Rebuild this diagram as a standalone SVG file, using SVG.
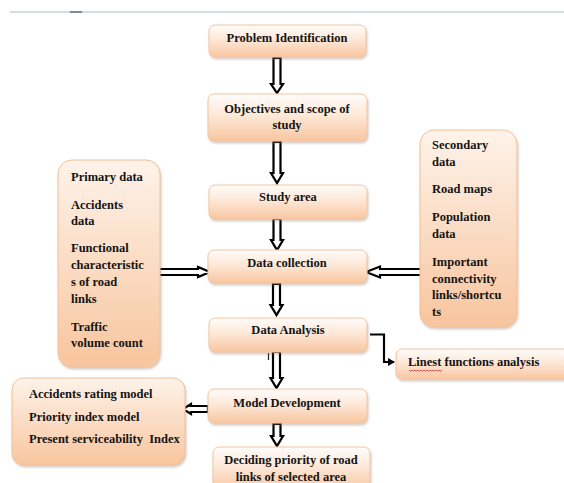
<svg xmlns="http://www.w3.org/2000/svg" width="564" height="483" viewBox="0 0 564 483">
<style>
  text { font-family: "Liberation Serif", "Times New Roman", serif; font-weight: bold; font-size: 12.5px; fill: #141414; }
  .c { text-anchor: middle; }
  .box { fill: url(#g); stroke: #f2c4a0; stroke-width: 1; filter: url(#sh); }
  .side { fill: url(#gs); stroke: #f0c09a; stroke-width: 1; filter: url(#sh); }
  .hollow { fill: #ffffff; stroke: #000000; stroke-width: 2.2; stroke-linejoin: miter; }
</style>
<defs>
  <linearGradient id="g" x1="0" y1="0" x2="0" y2="1">
    <stop offset="0" stop-color="#fffcfa"/>
    <stop offset="0.45" stop-color="#fde8d8"/>
    <stop offset="1" stop-color="#f8c6a0"/>
  </linearGradient>
  <linearGradient id="gs" x1="0" y1="0" x2="0" y2="1">
    <stop offset="0" stop-color="#fef3ea"/>
    <stop offset="1" stop-color="#f8c59e"/>
  </linearGradient>
  <filter id="sh" x="-10%" y="-10%" width="130%" height="130%">
    <feDropShadow dx="1" dy="2" stdDeviation="1.2" flood-color="#8a7060" flood-opacity="0.35"/>
  </filter>
  <marker id="ah" markerWidth="8" markerHeight="8" refX="6" refY="4" orient="auto" markerUnits="userSpaceOnUse">
    <path d="M0,0 L7,4 L0,8 Z" fill="#000"/>
  </marker>
</defs>

<rect width="564" height="483" fill="#ffffff"/>
<line x1="10" y1="12" x2="564" y2="12" stroke="#a9b9d1" stroke-width="1.2"/>
<line x1="70" y1="12" x2="82" y2="12" stroke="#5f6e86" stroke-width="1.5"/>

<g id="connectors">
  <polygon class="hollow" points="273.5,58 280.5,58 280.5,84 283,84 277,93 271,84 273.5,84"/>
  <polygon class="hollow" points="273.5,142 280.5,142 280.5,173 283,173 277,183 271,173 273.5,173"/>
  <polygon class="hollow" points="273.5,219 280.5,219 280.5,240 283,240 277,250 271,240 273.5,240"/>
  <polygon class="hollow" points="273,284 280,284 280,305 282.5,305 276.5,315 270.5,305 273,305"/>
  <polygon class="hollow" points="273,352 280,352 280,378 282.5,378 276.5,388 270.5,378 273,378"/>
  <polygon class="hollow" points="273.5,424 280.5,424 280.5,436 283,436 277,446 271,436 273.5,436"/>
  <polygon class="hollow" points="159,269 198,269 198,267 210,272 198,277 198,275 159,275"/>
  <polygon class="hollow" points="422,269 380,269 380,266.5 366,272 380,277.5 380,275 422,275"/>
  <polygon class="hollow" points="208,406 191,406 191,404 183,409 191,414 191,412 208,412"/>
  <path d="M370,334.5 H384 V362 H394" fill="none" stroke="#000" stroke-width="2.2" marker-end="url(#ah)"/>
  <line x1="268.5" y1="353" x2="268.5" y2="360" stroke="#222" stroke-width="1.2"/>
</g>

<g id="problem">
  <rect class="box" x="209" y="25" width="157" height="32" rx="6"/>
  <text class="c" x="287" y="42">Problem Identification</text>
</g>
<g id="objectives">
  <rect class="box" x="208" y="94" width="159" height="47" rx="6"/>
  <text class="c" x="287" y="113">Objectives and scope of</text>
  <text class="c" x="287" y="129">study</text>
</g>
<g id="study">
  <rect class="box" x="209" y="185" width="158" height="34" rx="6"/>
  <text class="c" x="288" y="201">Study area</text>
</g>
<g id="collection">
  <rect class="box" x="208" y="250" width="159" height="33" rx="6"/>
  <text class="c" x="287" y="267">Data collection</text>
</g>
<g id="analysis">
  <rect class="box" x="209" y="318" width="158" height="34" rx="6"/>
  <text class="c" x="288" y="334">Data Analysis</text>
</g>
<g id="model">
  <rect class="box" x="208" y="389" width="159" height="34" rx="6"/>
  <text class="c" x="287" y="407">Model Development</text>
</g>
<g id="deciding">
  <rect class="box" x="213" y="447" width="157" height="44" rx="6"/>
  <text class="c" x="291" y="464">Deciding priority of road</text>
  <text class="c" x="291" y="481">links of selected area</text>
</g>
<g id="linest">
  <rect class="box" x="396" y="349" width="180" height="30" rx="6"/>
  <text x="408" y="366">Linest functions analysis</text>
  <path d="M409,370 l1.5,1.2 l1.5,-1.2 l1.5,1.2 l1.5,-1.2 l1.5,1.2 l1.5,-1.2 l1.5,1.2 l1.5,-1.2 l1.5,1.2 l1.5,-1.2 l1.5,1.2 l1.5,-1.2 l1.5,1.2 l1.5,-1.2 l1.5,1.2 l1.5,-1.2 l1.5,1.2 l1.5,-1.2 l1.5,1.2 l1.5,-1.2 l1.5,1.2 l1.5,-1.2" fill="none" stroke="#d03030" stroke-width="0.8"/>
</g>
<g id="primary">
  <rect class="side" x="58" y="160" width="102" height="207" rx="14"/>
  <text x="71" y="181">Primary data</text>
  <text x="71" y="209">Accidents</text>
  <text x="71" y="225">data</text>
  <text x="71" y="252">Functional</text>
  <text x="71" y="269">characteristic</text>
  <text x="71" y="286">s of road</text>
  <text x="71" y="303">links</text>
  <text x="71" y="331">Traffic</text>
  <text x="71" y="347">volume count</text>
</g>
<g id="secondary">
  <rect class="side" x="420" y="130" width="97" height="197" rx="14"/>
  <text x="432" y="149">Secondary</text>
  <text x="432" y="166">data</text>
  <text x="432" y="193">Road maps</text>
  <text x="432" y="221">Population</text>
  <text x="432" y="238">data</text>
  <text x="432" y="266">Important</text>
  <text x="432" y="283">connectivity</text>
  <text x="432" y="299">links/shortcu</text>
  <text x="432" y="316">ts</text>
</g>
<g id="models">
  <rect class="side" x="12" y="378" width="173" height="87" rx="12"/>
  <text x="29" y="398">Accidents rating model</text>
  <text x="29" y="421">Priority index model</text>
  <text x="29" y="443" xml:space="preserve">Present serviceability  Index</text>
</g>
</svg>
